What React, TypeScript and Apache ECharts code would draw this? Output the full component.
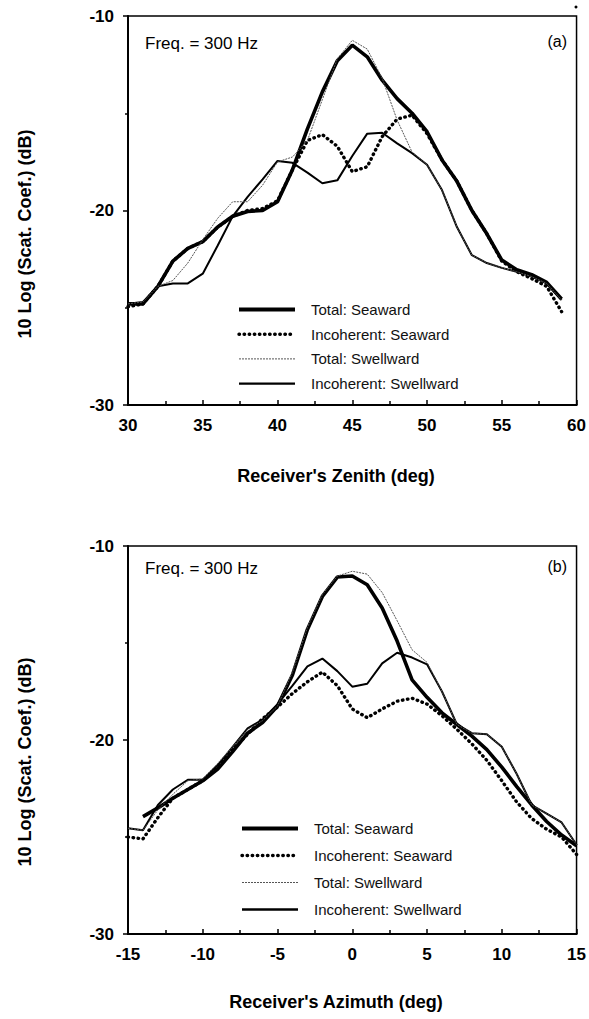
import React, { useEffect, useRef } from "react";
import * as echarts from "echarts";

// Panel (a): receiver's zenith, degrees
const zenith = [30, 31, 32, 33, 34, 35, 36, 37, 38, 39, 40, 41, 42, 43, 44, 45, 46, 47, 48, 49, 50, 51, 52, 53, 54, 55, 56, 57, 58, 59];
const totalSeawardA = [-24.8, -24.8, -23.9, -22.6, -21.95, -21.6, -20.85, -20.3, -20.05, -20.0, -19.55, -17.9, -15.8, -13.9, -12.3, -11.5, -12.1, -13.3, -14.25, -15.0, -15.95, -17.4, -18.5, -20.0, -21.2, -22.55, -23.05, -23.3, -23.7, -24.55];
const incohSeawardA = [-24.95, -24.8, -23.9, -22.6, -21.95, -21.6, -20.85, -20.3, -20.0, -19.9, -19.5, -17.9, -16.4, -16.1, -16.7, -18.0, -17.75, -16.2, -15.3, -15.1, -16.05, -17.4, -18.5, -20.0, -21.2, -22.6, -23.15, -23.5, -23.9, -25.2];
const totalSwellA = [-24.8, -24.7, -23.9, -23.6, -22.7, -21.5, -20.4, -19.55, -19.55, -18.7, -17.5, -17.25, -16.4, -14.3, -12.2, -11.25, -11.7, -13.2, -15.35, -17.0, -17.65, -18.95, -20.85, -22.3, -22.7, -22.95, -23.15, -23.4, -23.75, -24.6];
const incohSwellA = [-24.8, -24.7, -23.9, -23.75, -23.75, -23.25, -21.8, -20.3, -19.3, -18.4, -17.45, -17.55, -18.05, -18.6, -18.45, -17.2, -16.05, -16.0, -16.55, -17.05, -17.65, -18.95, -20.85, -22.3, -22.7, -22.95, -23.15, -23.4, -23.75, -24.6];

// Panel (b): receiver's azimuth, degrees
const azimuth = [-15, -14, -13, -12, -11, -10, -9, -8, -7, -6, -5, -4, -3, -2, -1, 0, 1, 2, 3, 4, 5, 6, 7, 8, 9, 10, 11, 12, 13, 14, 15];
const totalSeawardB = [null, -23.95, -23.5, -23.0, -22.55, -22.1, -21.5, -20.6, -19.65, -19.1, -18.25, -16.65, -14.3, -12.6, -11.6, -11.55, -12.0, -13.2, -14.9, -16.9, -17.8, -18.6, -19.2, -19.8, -20.5, -21.4, -22.4, -23.35, -24.2, -24.9, -25.45];
const incohSeawardB = [-25.0, -25.1, -24.0, -23.0, -22.55, -22.1, -21.4, -20.5, -19.7, -18.9, -18.3, -17.6, -17.0, -16.5, -17.2, -18.4, -18.85, -18.4, -18.0, -17.85, -18.15, -18.75, -19.45, -20.2, -21.05, -22.1, -23.2, -24.05, -24.6, -25.0, -25.9];
const totalSwellB = [-24.55, -24.65, -23.6, -22.8, -22.1, -22.0, -21.2, -20.35, -19.45, -19.0, -18.25, -16.5, -14.2, -12.5, -11.55, -11.3, -11.45, -12.4, -13.85, -15.35, -16.0, -17.5, -19.2, -19.65, -19.7, -20.35, -21.75, -23.35, -23.8, -24.25, -25.4];
const incohSwellB = [-24.55, -24.65, -23.35, -22.55, -22.05, -22.05, -21.3, -20.35, -19.4, -18.95, -18.15, -17.2, -16.2, -15.8, -16.45, -17.25, -17.1, -16.05, -15.5, -15.75, -16.1, -17.5, -19.2, -19.65, -19.7, -20.35, -21.75, -23.35, -23.8, -24.25, -25.4];

const seriesNames = ["Total: Seaward", "Incoherent: Seaward", "Total: Swellward", "Incoherent: Swellward"];
const yTicks = [-30, -20, -10];

const FONT = "'Liberation Sans', Arial, Helvetica, sans-serif";

const styles: any[] = [
  { color: "#000", width: 3.6, type: "solid" },
  { color: "#000", width: 3.4, type: [0.5, 4.6], cap: "round" },
  { color: "#555", width: 1, type: [2, 1] },
  { color: "#000", width: 2, type: "solid" },
];

function pairs(xs: number[], ys: (number | null)[]) {
  const out: number[][] = [];
  xs.forEach((x, i) => {
    const y = ys[i];
    if (y !== null && y !== undefined) out.push([x, y]);
  });
  return out;
}

export default function App() {
  const ref = useRef<HTMLDivElement>(null);
  useEffect(() => {
    if (!ref.current) return;
    const chart = echarts.init(ref.current, undefined, { renderer: "svg" });

    const grids = [
      { left: 128, right: 10, top: 16, height: 389, show: true, borderColor: "#000", borderWidth: 1.5 },
      { left: 128, right: 10, top: 546, height: 388, show: true, borderColor: "#000", borderWidth: 1.5 },
    ];
    const xRanges = [
      [30, 60],
      [-15, 15],
    ];

    const xAxis = xRanges.map((r, i) => ({
      type: "value",
      gridIndex: i,
      min: r[0],
      max: r[1],
      interval: 5,
      axisLine: { onZero: false, lineStyle: { color: "#000", width: 2 } },
      axisTick: { inside: true, length: 5, lineStyle: { color: "#000", width: 1.5 } },
      minorTick: { show: true, splitNumber: 2, length: 4, lineStyle: { color: "#000", width: 1.5 } },
      splitLine: { show: false },
      axisLabel: { color: "#000", fontSize: 17, fontWeight: "bold", fontFamily: FONT, margin: 12 },
    }));
    const yAxis = [0, 1].map((i) => ({
      type: "value",
      gridIndex: i,
      min: yTicks[0],
      max: yTicks[yTicks.length - 1],
      interval: 10,
      axisLine: { onZero: false, lineStyle: { color: "#000", width: 2 } },
      axisTick: { inside: false, length: 5, lineStyle: { color: "#000", width: 1.5 } },
      minorTick: { show: true, splitNumber: 2, length: 3, lineStyle: { color: "#000", width: 1.5 } },
      splitLine: { show: false },
      axisLabel: { color: "#000", fontSize: 17, fontWeight: "bold", fontFamily: FONT, margin: 14 },
    }));

    const dataA = [totalSeawardA, incohSeawardA, totalSwellA, incohSwellA];
    const dataB = [totalSeawardB, incohSeawardB, totalSwellB, incohSwellB];

    const series: any[] = [];
    [dataA, dataB].forEach((set, gi) => {
      const xs = gi === 0 ? zenith : azimuth;
      set.forEach((ys, si) => {
        series.push({
          type: "line",
          name: seriesNames[si],
          xAxisIndex: gi,
          yAxisIndex: gi,
          data: pairs(xs, ys as any),
          symbol: "none",
          smooth: false,
          itemStyle: { color: "#000" },
          lineStyle: styles[si],
          z: si === 2 ? 5 : 3,
        });
      });
    });

    const legendBase = {
      orient: "vertical",
      data: seriesNames.map((n, i) => ({
        name: n,
        itemStyle: { opacity: 0 },
        lineStyle: { ...styles[i], width: i === 0 ? 4 : i === 3 ? 2.4 : styles[i].width },
      })),
      itemWidth: 56,
      itemHeight: 14,
      selectedMode: false,
      itemStyle: { opacity: 0 },
      textStyle: { fontSize: 15, color: "#111", fontFamily: FONT, padding: [0, 0, 0, 11] },
    };

    const txt = (x: number, y: number, text: string, extra: any = {}) => ({
      type: "text",
      x,
      y,
      style: {
        text,
        fill: "#000",
        fontFamily: FONT,
        fontSize: 17,
        ...extra,
      },
    });

    const yTitle = (y: number) => ({
      type: "text",
      x: 25,
      y,
      rotation: Math.PI / 2,
      style: { text: "10 Log (Scat. Coef.) (dB)", fill: "#000", fontFamily: FONT, fontSize: 18, fontWeight: "bold", align: "center", verticalAlign: "middle" },
    });

    chart.setOption({
      animation: false,
      backgroundColor: "#fff",
      grid: grids,
      xAxis,
      yAxis,
      series,
      legend: [
        { ...legendBase, left: 232, top: 297, itemGap: 9.7 },
        { ...legendBase, left: 235, top: 816, itemGap: 12 },
      ],
      graphic: [
        txt(145, 43, "Freq. = 300 Hz", { verticalAlign: "middle" }),
        txt(567, 41, "(a)", { align: "right", verticalAlign: "middle", fontSize: 16 }),
        txt(145, 568, "Freq. = 300 Hz", { verticalAlign: "middle" }),
        txt(567, 566, "(b)", { align: "right", verticalAlign: "middle", fontSize: 16 }),
        txt(336, 476, "Receiver's Zenith (deg)", { align: "center", verticalAlign: "middle", fontWeight: "bold", fontSize: 18 }),
        txt(336, 1002, "Receiver's Azimuth (deg)", { align: "center", verticalAlign: "middle", fontWeight: "bold", fontSize: 18 }),
        yTitle(234),
        yTitle(762),
        { type: "circle", shape: { cx: 576, cy: 7, r: 1.5 }, style: { fill: "#000" } },
      ],
    });
    return () => chart.dispose();
  }, []);
  return <div ref={ref} style={{ position: "fixed", left: 0, top: 0, width: 589, height: 1019, background: "#fff" }} />;
}
